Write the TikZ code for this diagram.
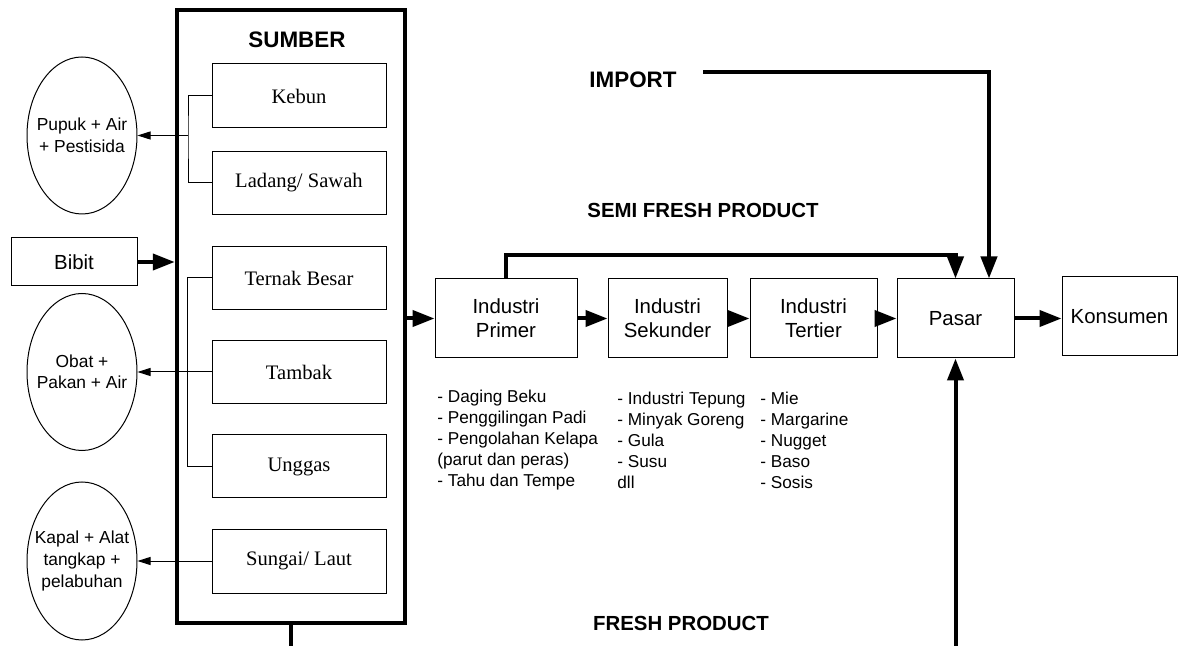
\documentclass[tikz,border=0pt]{standalone}
\usepackage{fontspec}
\setmainfont{Liberation Sans}
\newfontfamily\serifbox{Liberation Serif}
\usetikzlibrary{arrows.meta,shapes.geometric}

\begin{document}
\begin{tikzpicture}[x=0.5pt,y=-0.5pt,
    box/.style={draw,line width=0.5pt,inner sep=0pt,align=center,minimum height=39.5pt,font=\fontsize{10.2}{12}\selectfont},
    srcbox/.style={draw,line width=0.5pt,inner sep=0pt,minimum width=87pt,minimum height=31.5pt,font=\serifbox\fontsize{10.3}{12}\selectfont},
    inputoval/.style={draw,ellipse,line width=0.5pt,inner xsep=-8pt,inner ysep=0pt,minimum width=55pt,minimum height=78.5pt,align=center,font=\fontsize{8.7}{10.75}\selectfont},
    thinarrow/.style={line width=0.5pt,-{Triangle[length=6.5pt,width=4pt]}},
    flow/.style={line width=2pt,-{Triangle[length=11pt,width=8pt]}},
    title/.style={font=\bfseries\fontsize{11.2}{13}\selectfont},
    subtitle/.style={font=\bfseries\fontsize{10.2}{12}\selectfont},
    itemlist/.style={anchor=west,align=left,inner sep=0pt,font=\fontsize{8.6}{10.5}\selectfont}]
    \useasboundingbox (0,0) rectangle (1178,646);
    \clip (0,0) rectangle (1178,646);

    \node[draw,line width=2.2pt,minimum width=114pt,minimum height=306.5pt] (sumber) at (291,316.5) {};
    \node[title] (sumbertitle) at (297,40) {SUMBER};
    \node[srcbox,minimum height=32pt] (kebun) at (299,96) {Kebun};
    \node[srcbox] (ladang) at (299,183) {Ladang/ Sawah};
    \node[srcbox] (ternak) at (299,278) {Ternak Besar};
    \node[srcbox] (tambak) at (299,372) {Tambak};
    \node[srcbox] (unggas) at (299,466.5) {Unggas};
    \node[srcbox,minimum height=32pt] (sungai) at (299,561) {Sungai/ Laut};

    \node[inputoval] (pupuk) at (82,135.5) {Pupuk + Air\\+ Pestisida};
    \node[inputoval] (obat) at (82,372) {Obat +\\Pakan + Air};
    \node[inputoval,minimum height=79pt] (kapal) at (82,561) {Kapal + Alat\\tangkap +\\pelabuhan};
    \node[box,minimum width=63pt,minimum height=24pt] (bibit) at (74,262) {Bibit};

    \node[box,minimum width=71pt] (primer) at (506,318.5) {Industri\\Primer};
    \node[box,minimum width=59.5pt] (sekunder) at (667.5,318.5) {Industri\\Sekunder};
    \node[box,minimum width=63.5pt] (tertier) at (813.5,318.5) {Industri\\Tertier};
    \node[box,minimum width=58.5pt] (pasar) at (955.5,318.5) {Pasar};
    \node[box,minimum width=57.5pt] (konsumen) at (1119.5,316.5) {Konsumen};

    \node[itemlist] (listprimer) at (437,440) {- Daging Beku\\- Penggilingan Padi\\- Pengolahan Kelapa\\(parut dan peras)\\- Tahu dan Tempe};
    \node[itemlist] (listsekunder) at (617,440) {- Industri Tepung\\- Minyak Goreng\\- Gula\\- Susu\\dll};
    \node[itemlist] (listtertier) at (760,440) {- Mie\\- Margarine\\- Nugget\\- Baso\\- Sosis};

    \node[title] (import) at (633,80) {IMPORT};
    \node[subtitle] (semifresh) at (703,210) {SEMI FRESH PRODUCT};
    \node[subtitle] (fresh) at (681,623) {FRESH PRODUCT};
    \coordinate (importstart) at (703,72);
    \coordinate (kebunjoin) at (188,135.5);

    \draw[line width=0.5pt] (kebun.west) -| (kebunjoin) |- (ladang.west);
    \draw[thinarrow] (kebunjoin) -- (pupuk.east);
    \draw[line width=0.5pt] (ternak.west) -- ++(-24,0) |- (unggas.west);
    \draw[thinarrow] (tambak.west) -- (obat.east);
    \draw[thinarrow] (sungai.west) -- (kapal.east);

    \draw[flow] (bibit) -- (bibit -| sumber.west);
    \draw[flow] (sumber.east |- primer) -- (primer);
    \draw[flow] (primer) -- (sekunder);
    \draw[flow] (sekunder) -- (tertier);
    \draw[flow] (tertier) -- (pasar);
    \draw[flow] (pasar.east) -- (pasar.east -| konsumen.west);
    \draw[flow] (primer.north) -- ++(0,-23) -| (pasar.north);
    \draw[flow] (importstart) -| ([xshift=16.75pt]pasar.north);
    \draw[flow] (sumber.south) -- ++(0,50) -| (pasar.south);
\end{tikzpicture}
\end{document}
